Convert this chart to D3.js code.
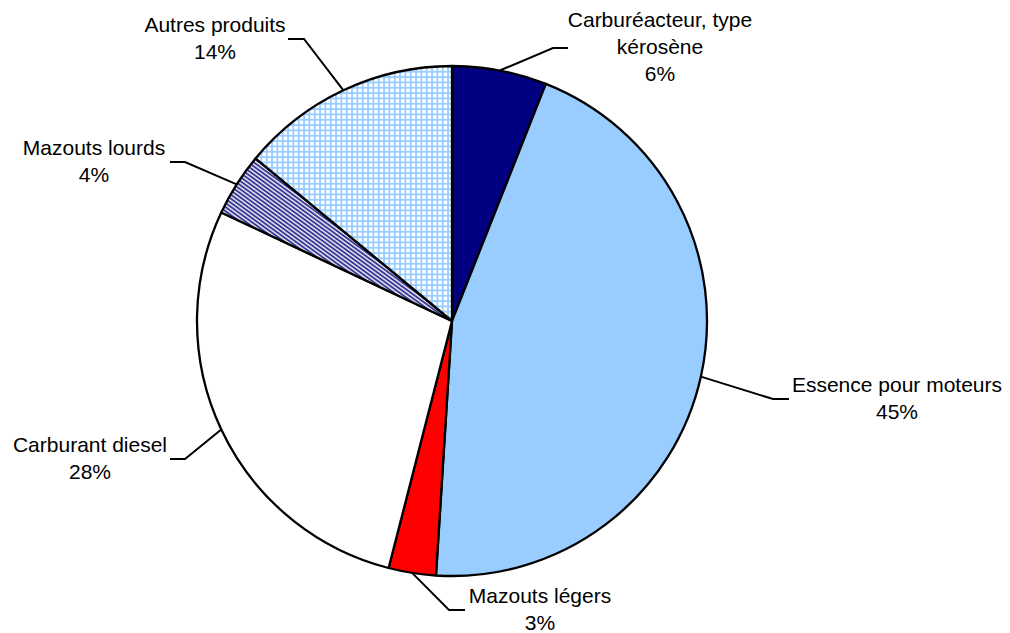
<!doctype html>
<html lang="fr">
<head>
<meta charset="UTF-8">
<title>Répartition des produits pétroliers</title>
<script src="https://d3js.org/d3.v7.js" charset="utf-8"></script>
<style>
    body { margin: 0; background: #fff; }
    #chart text { font-family: "Liberation Sans", Arial, sans-serif; font-size: 21px; fill: #000; }
</style>
</head>
<body>
<svg id="chart" width="1010" height="633"></svg>
<script>
    // ---- data ---- //
    const categories = ["Carburéacteur, type kérosène", "Essence pour moteurs", "Mazouts légers",
        "Carburant diesel", "Mazouts lourds", "Autres produits"];
    const shares = [6, 45, 3, 28, 4, 14];
    const label_lines = [["Carburéacteur, type", "kérosène"], ["Essence pour moteurs"], ["Mazouts légers"],
        ["Carburant diesel"], ["Mazouts lourds"], ["Autres produits"]];

    // ---- layout ---- //
    const CX = 452, CY = 321, RADIUS = 255;
    const LINE_HEIGHT = 27;
    const fills = ["#000080", "#99CCFF", "#FF0000", "#FFFFFF", "url(#stripes)", "url(#grid)"];
    // text centre, first baseline, leader elbow and end
    const label_layout = [
        { x: 660, y: 27, elbow: [553, 48], end: [568, 48] },
        { x: 897, y: 392, elbow: [773, 399], end: [789, 399] },
        { x: 540, y: 603, elbow: [449, 610], end: [465, 610] },
        { x: 90, y: 452, elbow: [185, 459], end: [170, 459] },
        { x: 94, y: 155, elbow: [185, 162], end: [170, 162] },
        { x: 215, y: 32, elbow: [304, 39], end: [288, 39] }
    ];

    const svg = d3.select("#chart");
    const defs = svg.append("defs");

    // narrow diagonal stripes for "Mazouts lourds"
    const stripes = defs.append("pattern").attr("id", "stripes")
        .attr("patternUnits", "userSpaceOnUse").attr("width", 8).attr("height", 3.3)
        .attr("patternTransform", "rotate(36)");
    stripes.append("rect").attr("width", 8).attr("height", 3.3).attr("fill", "#ffffff");
    stripes.append("rect").attr("x", 0).attr("y", 0.4).attr("width", 8).attr("height", 1.8)
        .attr("fill", "#22228a");

    // light blue grid for "Autres produits"
    const G = 16 / 3;
    const grid = defs.append("pattern").attr("id", "grid")
        .attr("patternUnits", "userSpaceOnUse").attr("width", G).attr("height", G)
        .attr("x", 0.5).attr("y", 0.5);
    grid.append("rect").attr("width", G).attr("height", G).attr("fill", "#ffffff");
    grid.append("rect").attr("width", G).attr("height", 1.8).attr("fill", "#99CCFF");
    grid.append("rect").attr("width", 1.8).attr("height", G).attr("fill", "#99CCFF");

    const pie = d3.pie().sort(null).value(d => d);
    const arcs = pie(shares);
    const arc = d3.arc().innerRadius(0).outerRadius(RADIUS);

    const g = svg.append("g").attr("transform", `translate(${CX},${CY})`);

    g.selectAll(".slice").data(arcs)
        .enter().append("path").attr("class", "slice")
        .attr("d", arc)
        .attr("fill", (d, i) => fills[i])
        .style("stroke", "#000").style("stroke-width", 2.3).style("stroke-linejoin", "round");

    // leader lines from the slice edge at its mid angle
    svg.selectAll(".leader").data(arcs)
        .enter().append("polyline").attr("class", "leader")
        .attr("points", (d, i) => {
            const a = (d.startAngle + d.endAngle) / 2;
            const sx = CX + RADIUS * Math.sin(a);
            const sy = CY - RADIUS * Math.cos(a);
            const l = label_layout[i];
            return [[sx, sy], l.elbow, l.end].map(p => p.join(",")).join(" ");
        })
        .style("fill", "none").style("stroke", "#000").style("stroke-width", 2);

    // labels
    const labels = svg.selectAll(".label").data(arcs)
        .enter().append("text").attr("class", "label")
        .attr("text-anchor", "middle")
        .attr("x", (d, i) => label_layout[i].x)
        .attr("y", (d, i) => label_layout[i].y);

    labels.each(function (d, i) {
        const lines = label_lines[i].concat([d.data + "%"]);
        d3.select(this).selectAll("tspan").data(lines)
            .enter().append("tspan")
            .attr("x", label_layout[i].x)
            .attr("dy", (t, j) => j === 0 ? 0 : LINE_HEIGHT)
            .text(t => t);
    });
</script>
</body>
</html>
